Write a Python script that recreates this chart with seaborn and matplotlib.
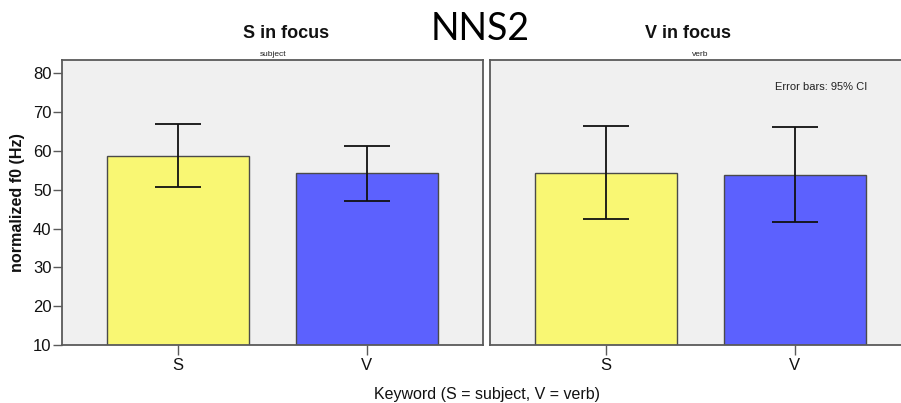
import matplotlib
matplotlib.use("Agg")
import matplotlib.pyplot as plt
import seaborn as sns
import pandas as pd
import numpy as np

# Mean normalized f0 per keyword in each focus condition, with 95% CI bounds
panels = ["S in focus", "V in focus"]
panel_notes = ["subject", "verb"]
keywords = ["S", "V"]
means_s_focus = [58.8, 54.2]
means_v_focus = [54.3, 53.8]
ci_low_s_focus = [50.6, 47.1]
ci_high_s_focus = [67.0, 61.3]
ci_low_v_focus = [42.4, 41.7]
ci_high_v_focus = [66.4, 66.1]
y_ticks = [10, 20, 30, 40, 50, 60, 70, 80]

bar_colors = ["#F9F773", "#5C61FE"]
panel_bg = "#F0F0F0"
frame_col = "#5A5A5A"

sns.set_theme(style="white")
plt.rcParams["font.family"] = ["Liberation Sans", "DejaVu Sans"]

fig = plt.figure(figsize=(9.01, 4.03), dpi=100)
W, H = 901, 403


def add_axes_px(x0, x1, y_top, y_bot):
    return fig.add_axes([x0 / W, (H - y_bot) / H, (x1 - x0) / W, (y_bot - y_top) / H])


ax_left = add_axes_px(62, 483, 60, 345)
ax_right = add_axes_px(490, 911, 60, 345)

data = [
    (ax_left, means_s_focus, ci_low_s_focus, ci_high_s_focus),
    (ax_right, means_v_focus, ci_low_v_focus, ci_high_v_focus),
]

for i, (ax, means, lo, hi) in enumerate(data):
    df = pd.DataFrame({"Keyword": keywords, "f0": means})
    sns.barplot(data=df, x="Keyword", y="f0", hue="Keyword", palette=bar_colors,
                order=keywords, hue_order=keywords, legend=False, errorbar=None,
                saturation=1, width=0.75, edgecolor="#4A4A4A", linewidth=1.0,
                ax=ax, zorder=2)
    means_arr = np.array(means)
    yerr = np.vstack([means_arr - np.array(lo), np.array(hi) - means_arr])
    ax.errorbar(np.arange(len(keywords)), means_arr, yerr=yerr, fmt="none",
                ecolor="#111111", elinewidth=1.3, capsize=16.8, capthick=1.3, zorder=3)
    ax.set_facecolor(panel_bg)
    ax.set_xlim(-0.614, 1.614)
    ax.set_ylim(10, 83.4)
    ax.set_xlabel("")
    ax.set_ylabel("")
    for side, sp in ax.spines.items():
        sp.set_visible(True)
        sp.set_color(frame_col)
        sp.set_linewidth(1.3)
    ax.tick_params(axis="x", bottom=True, length=7, width=1.0, color=frame_col,
                   pad=2, labelsize=12, labelcolor="#111111")
    if i == 0:
        ax.set_yticks(y_ticks)
        ax.tick_params(axis="y", left=True, length=6.5, width=1.0, color=frame_col,
                       pad=1, labelsize=12, labelcolor="#111111")
    else:
        ax.set_yticks([])

# Panel headings
fig.text(286 / W, 1 - 34 / H, panels[0], ha="center", va="center",
         fontsize=13, fontweight="bold", color="#111111")
fig.text(688 / W, 1 - 34 / H, panels[1], ha="center", va="center",
         fontsize=13, fontweight="bold", color="#111111")
fig.text(273 / W, 1 - 54.5 / H, panel_notes[0], ha="center", va="center",
         fontsize=6, color="#222222")
fig.text(700 / W, 1 - 54.5 / H, panel_notes[1], ha="center", va="center",
         fontsize=6, color="#222222")

fig.text(480 / W, 1 - 29 / H, "NNS2", ha="center", va="center",
         fontsize=27, color="black", family=["Lato", "DejaVu Sans"])

fig.text(821 / W, 1 - 87 / H, "Error bars: 95% CI", ha="center", va="center",
         fontsize=8, color="#222222")

fig.text(18 / W, 1 - 203 / H, "normalized f0 (Hz)", ha="center", va="center",
         rotation=90, fontsize=11.6, fontweight="bold", color="#111111")
fig.text(487 / W, 1 - 395 / H, "Keyword (S = subject, V = verb)", ha="center",
         va="center", fontsize=11.5, color="#111111")

fig.savefig("out.png", dpi=100, facecolor="white")
